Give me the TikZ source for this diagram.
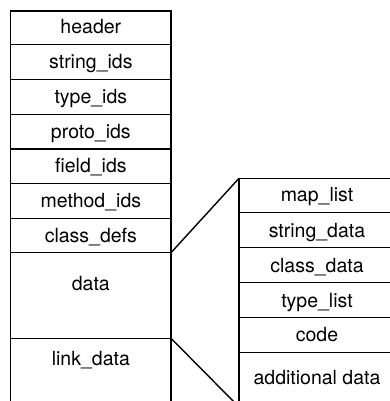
\documentclass[tikz,border=0pt]{standalone}
\usepackage{fontspec}
\setmainfont{TeX Gyre Heros}
\begin{document}
\begin{tikzpicture}[x=1pt,y=-1pt,
  cell/.style={draw, line width=1.4pt, rectangle, inner sep=0pt, outer sep=0pt},
  leftcell/.style={cell, minimum width=160.3pt},
  rightcell/.style={cell, minimum width=156pt},
  lbl/.style={anchor=base, inner sep=0pt, font=\fontsize{19.5}{23}\selectfont},
  link/.style={line width=1.4pt}]
\useasboundingbox (0,0) rectangle (390,401);
\clip (0,0) rectangle (390,401);

% left column: sections of the file
\node[leftcell, minimum height=33.3pt] (header)  at (90.85,27.65)  {};
\node[leftcell, minimum height=35pt]   (strids)  at (90.85,61.8)   {};
\node[leftcell, minimum height=35pt]   (typeids) at (90.85,96.8)   {};
\node[leftcell, minimum height=34.7pt] (protoids) at (90.85,131.65) {};
\node[leftcell, minimum height=34.5pt] (fieldids) at (90.85,166.25) {};
\node[leftcell, minimum height=34.8pt] (methodids) at (90.85,200.9) {};
\node[leftcell, minimum height=34.4pt] (classdefs) at (90.85,235.5) {};
\node[leftcell, minimum height=85.6pt] (data)    at (90.85,295.5)  {};
\node[leftcell, minimum height=71.7pt] (linkdata) at (90.85,374.15) {};

\node[lbl] (t-header)   at (90.85,33.6)  {header};
\node[lbl] (t-strids)   at (90.85,68.6)  {string\_ids};
\node[lbl] (t-typeids)  at (90.85,103.6) {type\_ids};
\node[lbl] (t-protoids) at (90.85,138.3) {proto\_ids};
\node[lbl] (t-fieldids) at (90.85,172.8) {field\_ids};
\node[lbl] (t-methodids) at (90.85,207.6) {method\_ids};
\node[lbl] (t-classdefs) at (90.85,242.0) {class\_defs};
\node[lbl] (t-data)     at (90.85,290.0) {data};
\node[lbl] (t-linkdata) at (90.85,365.7) {link\_data};

% right column: contents of the data section
\node[rightcell, minimum height=34pt]   (maplist)  at (317,195.3) {};
\node[rightcell, minimum height=35.4pt] (strdata)  at (317,230)   {};
\node[rightcell, minimum height=35pt]   (classdata) at (317,265.2) {};
\node[rightcell, minimum height=35pt]   (typelist) at (317,300.2) {};
\node[rightcell, minimum height=34.6pt] (code)     at (317,335)   {};
\node[rightcell, minimum height=54.7pt] (adddata)  at (317,379.65) {};

\node[lbl] (t-maplist)   at (317,201.6) {map\_list};
\node[lbl] (t-strdata)   at (317,237.0) {string\_data};
\node[lbl] (t-classdata) at (317,272.0) {class\_data};
\node[lbl] (t-typelist)  at (317,307.0) {type\_list};
\node[lbl] (t-code)      at (317,341.6) {code};
\node[lbl] (t-adddata)   at (317,384.0) {additional data};

% expansion lines
\draw[link] (data.north east) -- (maplist.north west);
\draw[link] (linkdata.north east) -- (adddata.south west);
\end{tikzpicture}
\end{document}
